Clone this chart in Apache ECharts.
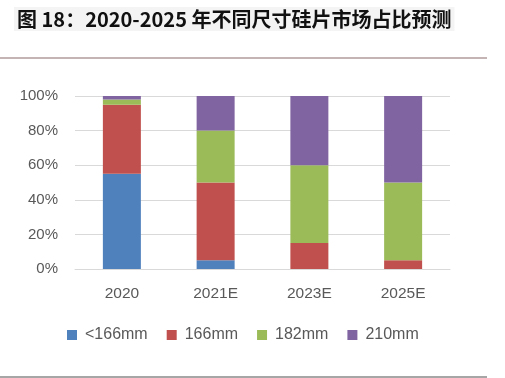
<!DOCTYPE html>
<html><head><meta charset="utf-8">
<script src="https://cdn.jsdelivr.net/npm/echarts@6/dist/echarts.min.js"></script>
<style>html,body{margin:0;padding:0;background:#fff}#c{width:505px;height:378px}</style>
</head><body><div id="c"></div>
<script>
const categories = ['2020', '2021E', '2023E', '2025E'];
const seriesNames = ['<166mm', '166mm', '182mm', '210mm'];
const s166less = [55, 5, 0, 0];
const s166 = [40, 45, 15, 5];
const s182 = [3, 30, 45, 45];
const s210 = [2, 20, 40, 50];
const yTicks = [0, 20, 40, 60, 80, 100];
const colors = ['#4F81BD', '#C0504D', '#9BBB59', '#8064A2'];
const values = [s166less, s166, s182, s210];

const chart = echarts.init(document.getElementById('c'));
chart.setOption({
  animation: false,
  color: colors,
  title: {
    text: '图 18：2020-2025 年不同尺寸硅片市场占比预测',
    left: 14, top: 7,
    backgroundColor: '#f4f4f4',
    padding: [2, 3],
    textStyle: { fontSize: 20, fontWeight: 'bold', color: '#111', fontFamily: 'Noto Sans CJK SC' }
  },
  graphic: [
    { type: 'line', shape: { x1: 0, y1: 58, x2: 487, y2: 58 }, style: { stroke: '#8a6a6a', lineWidth: 1.2 } },
    { type: 'line', shape: { x1: 0, y1: 377, x2: 487, y2: 377 }, style: { stroke: '#888', lineWidth: 1.5 } }
  ],
  grid: { left: 75, right: 55, top: 96, bottom: 109, containLabel: false },
  legend: {
    data: seriesNames,
    left: 67, top: 327, padding: 0,
    icon: 'rect', itemWidth: 10, itemHeight: 10, itemGap: 19,
    textStyle: { fontSize: 16, color: '#595959', fontFamily: 'Liberation Sans', padding: [0, 0, 0, 3] }
  },
  xAxis: {
    type: 'category', data: categories,
    axisLine: { lineStyle: { color: '#d9d9d9' } },
    axisTick: { show: false },
    axisLabel: { fontSize: 15.5, color: '#595959', margin: 17, fontFamily: 'Liberation Sans' }
  },
  yAxis: {
    type: 'value', min: 0, max: 100, interval: 20,
    axisLine: { show: false }, axisTick: { show: false },
    splitLine: { lineStyle: { color: '#d9d9d9' } },
    axisLabel: { fontSize: 15, color: '#595959', margin: 17, formatter: v => v + '%', fontFamily: 'Liberation Sans' }
  },
  series: seriesNames.map((n, i) => ({
    name: n, type: 'bar', stack: 'total', barWidth: 38, data: values[i]
  }))
});
</script></body></html>
